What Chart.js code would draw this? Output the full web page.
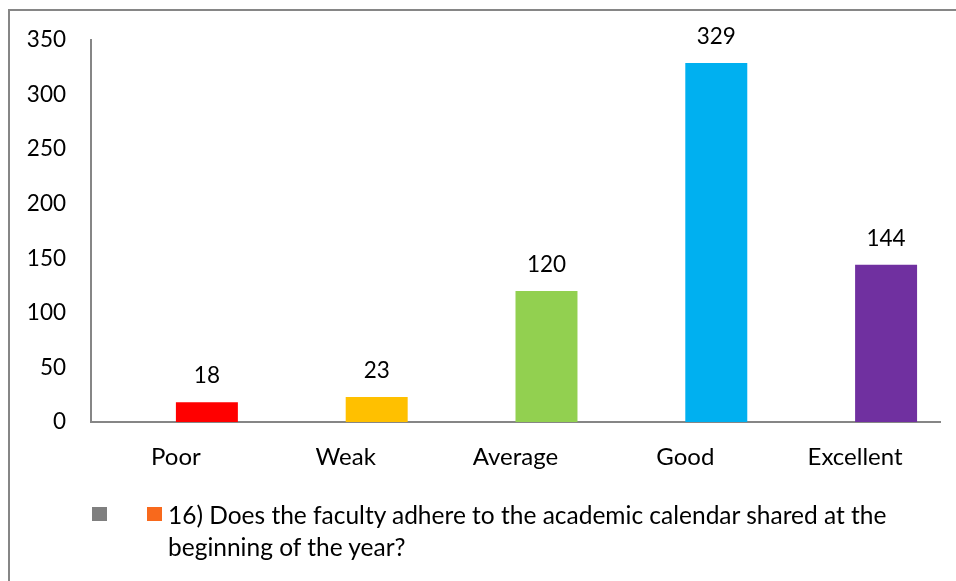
<!DOCTYPE html>
<html>
<head>
<meta charset="utf-8">
<script src="https://cdn.jsdelivr.net/npm/chart.js@4"></script>
<style>
  html, body { margin: 0; padding: 0; background: #fff; }
  body { width: 956px; height: 581px; position: relative; overflow: hidden; font-family: Lato, sans-serif; }
  #frame { position: absolute; left: 8px; top: 9px; width: 960px; height: 600px; border-left: 2px solid #868686; border-top: 2px solid #868686; }
  #wrap { position: absolute; left: 0; top: 0; width: 956px; height: 581px; }
  .sq { position: absolute; top: 507px; width: 15px; height: 14px; }
  #legendText { position: absolute; left: 168px; top: 499px; font-size: 24.5px; line-height: 32px; color: #000; white-space: nowrap; }
</style>
</head>
<body>
<div id="frame"></div>
<div id="wrap"><canvas id="chart"></canvas></div>
<div class="sq" style="left:92px;background:#7f7f7f"></div>
<div class="sq" style="left:147px;background:#f8691c"></div>
<div id="legendText">16) Does the faculty adhere to the academic calendar shared at the<br>beginning of the year?</div>
<script>
const categories = ["Poor", "Weak", "Average", "Good", "Excellent"];
const responses = [18, 23, 120, 329, 144];
const barColors = ["#ff0000", "#ffc000", "#92d050", "#00b0f0", "#7030a0"];
const emptySeries = [null, null, null, null, null];
const seriesLabel = "16) Does the faculty adhere to the academic calendar shared at the beginning of the year?";

const valueLabels = {
  id: "valueLabels",
  afterDatasetsDraw(chart) {
    const ctx = chart.ctx;
    const meta = chart.getDatasetMeta(1);
    ctx.save();
    ctx.font = "22.5px Lato";
    ctx.fillStyle = "#000";
    ctx.textAlign = "center";
    ctx.textBaseline = "alphabetic";
    meta.data.forEach((bar, i) => {
      ctx.fillText(String(responses[i]), bar.x, bar.y - 19);
    });
    ctx.restore();
  }
};

new Chart(document.getElementById("chart").getContext("2d"), {
  type: "bar",
  data: {
    labels: categories,
    datasets: [
      { label: "", data: emptySeries, backgroundColor: "#7f7f7f" },
      { label: seriesLabel, data: responses, backgroundColor: barColors }
    ]
  },
  options: {
    responsive: true,
    maintainAspectRatio: false,
    animation: false,
    layout: { padding: { top: 40, right: 16, bottom: 0, left: 0 } },
    datasets: { bar: { categoryPercentage: 0.73, barPercentage: 1 } },
    plugins: {
      legend: { display: false },
      tooltip: { enabled: false }
    },
    scales: {
      x: {
        grid: { display: false, drawTicks: false },
        border: { display: true, color: "#868686", width: 2 },
        ticks: { color: "#000", font: { family: "Lato", size: 24 }, padding: 21 },
        afterFit(scale) { scale.height = 159; }
      },
      y: {
        min: 0,
        max: 350,
        grid: { display: false, drawTicks: false },
        border: { display: true, color: "#868686", width: 2 },
        ticks: { stepSize: 50, color: "#000", font: { family: "Lato", size: 22.5 }, padding: 25 },
        afterFit(scale) { scale.width = 91; }
      }
    }
  },
  plugins: [valueLabels]
});
</script>
</body>
</html>
